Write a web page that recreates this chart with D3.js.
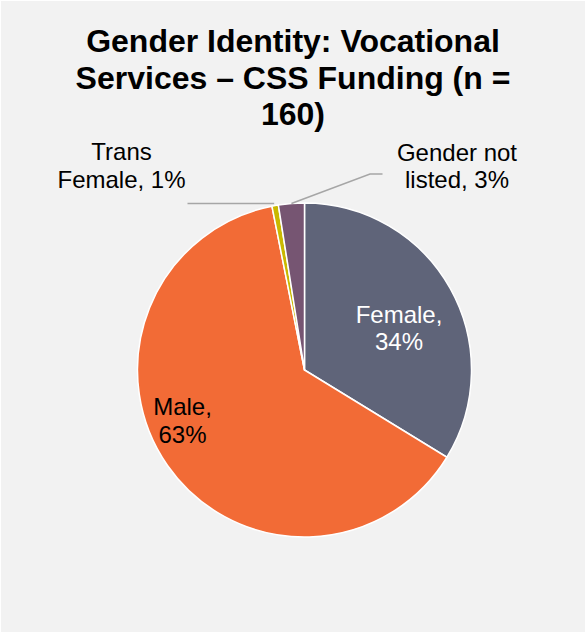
<!DOCTYPE html>
<html lang="en">
<head>
    <meta charset="utf-8">
    <title>Gender Identity: Vocational Services</title>
    <script type="text/javascript" src="https://d3js.org/d3.v7.min.js"></script>
    <style type="text/css">
        body {
            margin: 0;
            background: #ffffff;
        }

        text {
            font-family: "Liberation Sans", Arial, sans-serif;
        }
    </style>
</head>
<body>
    <script type="text/javascript">

        // data
        var categories = ["Female", "Male", "Trans Female", "Gender not listed"];
        var counts = [54, 101, 1, 4];
        var colors = ["#5f6479", "#f26b36", "#c9b800", "#765572"];
        var titleLines = ["Gender Identity: Vocational", "Services \u2013 CSS Funding (n =", "160)"];

        // layout
        var w = 586;
        var h = 633;
        var cx = 304.5;
        var cy = 370;
        var r = 167;

        var svg = d3.select("body")
            .append("svg")
            .attr("width", w)
            .attr("height", h);

        // chart area
        svg.append("rect")
            .attr("x", 1)
            .attr("y", 1)
            .attr("width", w - 2)
            .attr("height", h - 2)
            .attr("fill", "#f2f2f2");

        // title
        svg.append("text")
            .attr("x", w / 2)
            .attr("y", 52)
            .attr("text-anchor", "middle")
            .style("font-size", "32px")
            .style("font-weight", "bold")
            .attr("fill", "#000")
            .selectAll("tspan")
            .data(titleLines)
            .enter()
            .append("tspan")
            .attr("x", w / 2)
            .attr("dy", function (d, i) { return i === 0 ? 0 : 36.6; })
            .text(function (d) { return d; });

        var total = d3.sum(counts);
        var data = categories.map(function (c, i) {
            return { name: c, value: counts[i], color: colors[i] };
        });

        var pie = d3.pie()
            .sort(null)
            .value(function (d) { return d.value; });

        var arc = d3.arc().innerRadius(0).outerRadius(r);
        var edge = d3.arc().innerRadius(r).outerRadius(r);

        var g = svg.append("g")
            .attr("transform", "translate(" + cx + "," + cy + ")");

        var arcs = pie(data);

        g.selectAll("path.slice")
            .data(arcs)
            .enter()
            .append("path")
            .attr("class", "slice")
            .attr("d", arc)
            .attr("fill", function (d) { return d.data.color; })
            .attr("stroke", "#ffffff")
            .attr("stroke-width", 1.5)
            .attr("stroke-linejoin", "round");

        // label placement (offsets from pie centre, leader line bends)
        var labelPos = [
            { x: 94.5, y: -47.3, fill: "#ffffff", leader: null },
            { x: -122, y: 45, fill: "#000000", leader: null },
            { x: -183, y: -210, fill: "#000000", leader: [[-117, -166.5]] },
            { x: 152.5, y: -209.3, fill: "#000000", leader: [[65.5, -196], [78, -196]] }
        ];

        function pct(d) {
            return Math.round(d.value / total * 100) + "%";
        }

        // leader lines
        arcs.forEach(function (d, i) {
            var lp = labelPos[i];
            if (!lp.leader) return;
            var start = edge.centroid(d);
            var pts = [start].concat(lp.leader);
            if (i === 2) pts[0] = [start[0] - 1, lp.leader[0][1]];
            g.append("path")
                .attr("d", d3.line()(pts))
                .attr("fill", "none")
                .attr("stroke", "#a6a6a6")
                .attr("stroke-width", 1.5);
        });

        // labels
        arcs.forEach(function (d, i) {
            var lp = labelPos[i];
            var lines;
            if (i === 2) lines = ["Trans", "Female, " + pct(d.data)];
            else if (i === 3) lines = ["Gender not", "listed, " + pct(d.data)];
            else lines = [d.data.name + ",", pct(d.data)];

            g.append("text")
                .attr("x", lp.x)
                .attr("y", lp.y)
                .attr("text-anchor", "middle")
                .attr("fill", lp.fill)
                .style("font-size", "24px")
                .selectAll("tspan")
                .data(lines)
                .enter()
                .append("tspan")
                .attr("x", lp.x)
                .attr("dy", function (t, j) { return j === 0 ? 0 : 27.6; })
                .text(function (t) { return t; });
        });
    </script>
</body>
</html>
